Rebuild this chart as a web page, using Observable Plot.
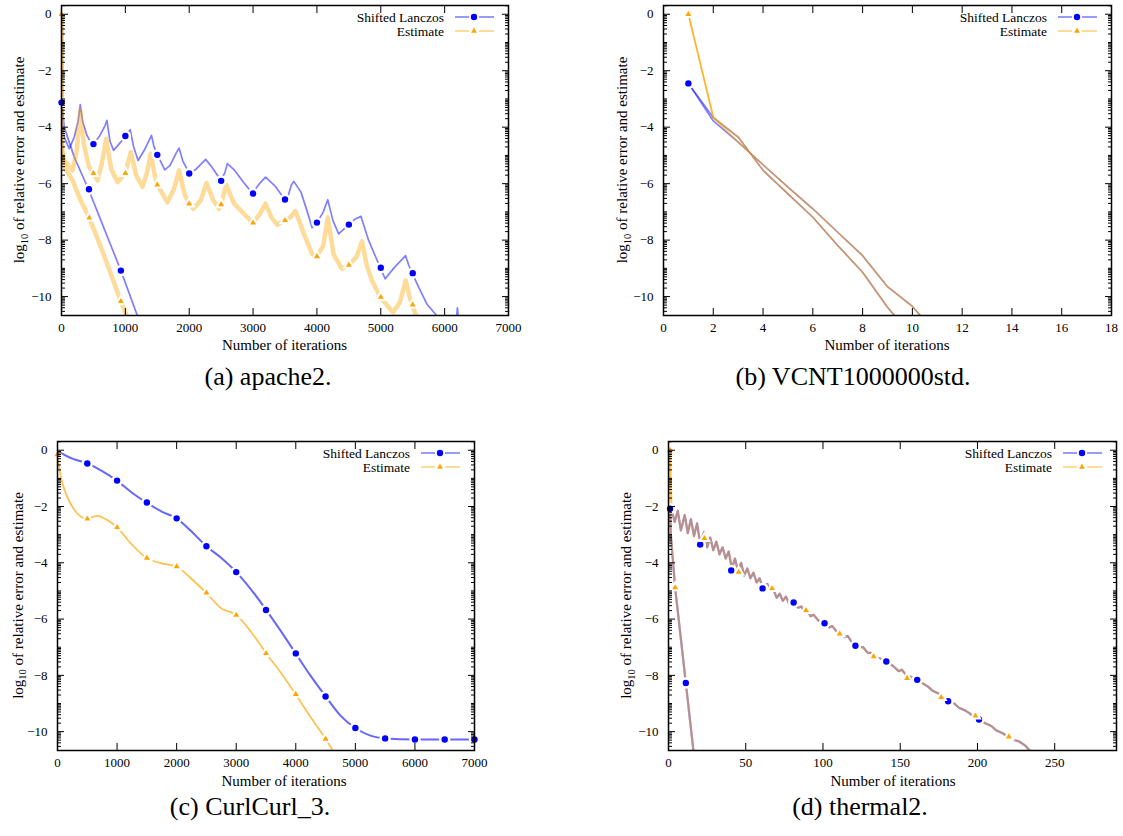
<!DOCTYPE html>
<html><head><meta charset="utf-8">
<script src="https://cdn.jsdelivr.net/npm/d3@7"></script>
<script src="https://cdn.jsdelivr.net/npm/@observablehq/plot@0.6"></script>
<style>
body{margin:0;background:#fff;}
#root{position:relative;width:1123px;height:836px;overflow:hidden;background:#fff}
#root svg.panel{position:absolute}
#overlay{position:absolute;left:0;top:0;pointer-events:none}
#root svg text, #root svg tspan{font-family:"Liberation Serif", "DejaVu Serif", serif !important;}
</style></head>
<body><div id="root"></div>
<script>
// ---------- data ----------
const xTicksIter7000 = [0,1000,2000,3000,4000,5000,6000,7000];
const xTicksVcnt = [0,2,4,6,8,10,12,14,16,18];
const xTicksThermal = [0,50,100,150,200,250];
const yMajor = [0,-2,-4,-6,-8,-10];
const captions = ["(a) apache2.", "(b) VCNT1000000std.", "(c) CurlCurl_3.", "(d) thermal2."];
const seriesNames = ["Shifted Lanczos", "Estimate"];

// (a) apache2
const apacheLanczosSlow = [[0,-3.13],[15,-4.1],[60,-4.45],[122,-4.76],[200,-4.35],[260,-3.8],[294,-3.2],[330,-3.8],[400,-4.3],[472,-4.59],[500,-4.6],[600,-4.3],[680,-3.95],[711,-3.76],[760,-4.5],[815,-4.82],[900,-4.6],[1008,-4.31],[1075,-4.09],[1130,-4.7],[1200,-5.18],[1300,-4.8],[1409,-4.29],[1450,-4.7],[1503,-4.98],[1617,-5.51],[1700,-5.35],[1800,-4.9],[1841,-4.74],[1900,-5.2],[2003,-5.64],[2100,-5.5],[2258,-5.14],[2350,-5.4],[2450,-5.73],[2492,-5.9],[2560,-5.6],[2597,-5.29],[2700,-5.5],[2850,-5.95],[2987,-6.34],[3100,-6.0],[3195,-5.77],[3350,-6.1],[3497,-6.56],[3540,-6.5],[3600,-6.05],[3638,-5.92],[3750,-6.3],[3850,-7.0],[3925,-7.56],[4003,-7.38],[4100,-7.0],[4169,-6.57],[4250,-7.3],[4340,-7.78],[4497,-7.45],[4600,-7.25],[4690,-7.16],[4810,-8.01],[4992,-8.98],[5070,-9.37],[5200,-9.0],[5388,-8.55],[5440,-8.9],[5492,-9.17],[5600,-9.7],[5721,-10.26],[5904,-10.75]];
const apacheLanczosFast = [[0,-3.13],[44,-4.0],[200,-5.06],[419,-6.18],[617,-7.3],[773,-8.19],[930,-9.08],[1200,-10.75]];
const apacheLanczosTail = [[6185,-10.75],[6200,-10.4],[6215,-10.75]];
const apacheEstimateSlow = [[0,0],[8,-4.8],[44,-5.18],[175,-5.53],[240,-4.8],[294,-3.4],[350,-4.6],[430,-5.4],[503,-5.63],[565,-5.89],[630,-5.3],[700,-4.41],[780,-5.5],[878,-5.95],[997,-5.63],[1086,-4.88],[1170,-5.7],[1268,-6.12],[1340,-5.6],[1398,-4.94],[1460,-5.7],[1503,-6.04],[1659,-6.66],[1760,-6.2],[1841,-5.53],[1930,-6.4],[2003,-6.71],[2065,-6.89],[2180,-6.6],[2269,-5.98],[2380,-6.6],[2466,-6.89],[2497,-6.74],[2581,-6.04],[2700,-6.7],[2909,-7.19],[2997,-7.39],[3100,-7.1],[3195,-6.71],[3290,-7.2],[3378,-7.45],[3497,-7.3],[3580,-7.2],[3664,-6.97],[3800,-7.8],[3925,-8.49],[3992,-8.58],[4100,-8.2],[4169,-7.19],[4260,-8.5],[4393,-9.02],[4497,-8.88],[4620,-8.6],[4706,-8.04],[4780,-8.9],[4862,-9.43],[4992,-10.02],[5190,-10.56],[5300,-10.2],[5388,-9.43],[5450,-10.0],[5492,-10.29],[5565,-10.75]];
const apacheEstimateFast = [[0,0],[8,-4.8],[44,-5.41],[175,-5.89],[300,-6.6],[434,-7.21],[617,-8.25],[773,-9.2],[930,-10.17],[1035,-10.75]];
const apacheLanczosMarks = [[0,-3.13],[430,-6.2],[930,-9.08],[500,-4.6],[1000,-4.31],[1500,-4.98],[2000,-5.64],[2500,-5.9],[3000,-6.35],[3500,-6.56],[4000,-7.38],[4500,-7.45],[5000,-8.98],[5500,-9.17]];
const apacheEstimateMarks = [[0,0],[434,-7.21],[930,-10.17],[500,-5.63],[1000,-5.63],[1500,-6.04],[2000,-6.71],[2500,-6.74],[3000,-7.39],[3500,-7.3],[4000,-8.58],[4500,-8.88],[5000,-10.02],[5500,-10.29]];

// (b) VCNT1000000std
const vcntLanczosA = [[1,-2.45],[2,-3.66],[3,-4.35],[4,-5.53],[5,-6.36],[6,-7.19],[7,-8.19],[8,-9.14],[9,-10.38],[9.4,-10.8]];
const vcntLanczosB = [[1,-2.45],[2,-3.78],[3,-4.53],[4,-5.33],[5,-6.12],[6,-6.89],[7,-7.72],[8,-8.55],[9,-9.65],[10,-10.35],[10.45,-10.8]];
const vcntEstimateA = [[1,0],[2,-3.64],[3,-4.35],[4,-5.53],[5,-6.36],[6,-7.19],[7,-8.19],[8,-9.14],[9,-10.38],[9.4,-10.8]];
const vcntEstimateB = [[1,0],[2,-3.66],[3,-4.53],[4,-5.33],[5,-6.12],[6,-6.89],[7,-7.72],[8,-8.55],[9,-9.65],[10,-10.35],[10.45,-10.8]];
const vcntLanczosMarks = [[1,-2.45]];
const vcntEstimateMarks = [[1,0]];

// (c) CurlCurl_3
const curlLanczos = [[0,-0.03],[250,-0.3],[498,-0.47],[750,-0.74],[997,-1.08],[1250,-1.51],[1495,-1.86],[1750,-2.18],[1999,-2.42],[2250,-2.89],[2497,-3.41],[2750,-3.83],[3001,-4.33],[3250,-4.95],[3505,-5.68],[3750,-6.43],[3998,-7.22],[4250,-8.02],[4502,-8.75],[4750,-9.43],[5000,-9.87],[5250,-10.14],[5498,-10.24],[6002,-10.28],[6500,-10.28],[7000,-10.28]];
const curlEstimate = [[0,-0.15],[50,-0.88],[162,-1.65],[330,-2.24],[498,-2.44],[666,-2.33],[850,-2.5],[997,-2.74],[1226,-3.3],[1495,-3.83],[1730,-4.01],[1999,-4.13],[2234,-4.54],[2497,-5.07],[2738,-5.6],[3001,-5.86],[3242,-6.43],[3505,-7.22],[3746,-7.9],[3998,-8.67],[4250,-9.49],[4502,-10.26],[4700,-10.95]];
const curlLanczosMarks = [[500,-0.47],[1000,-1.08],[1500,-1.86],[2000,-2.42],[2500,-3.41],[3000,-4.33],[3500,-5.68],[4000,-7.22],[4500,-8.75],[5000,-9.87],[5500,-10.24],[6000,-10.28],[6500,-10.28],[7000,-10.28]];
const curlEstimateMarks = [[0,-0.15],[500,-2.44],[1000,-2.74],[1500,-3.83],[2000,-4.13],[2500,-5.07],[3000,-5.86],[3500,-7.22],[4000,-8.67],[4500,-10.26]];

// (d) thermal2
const thermalFastLanczos = [[1,-2.08],[1.5,-3.0],[4.3,-4.88],[11.2,-8.27],[16.6,-10.9]];
const thermalFastEstimate = [[1,0],[1.5,-3.0],[4.3,-4.88],[11.2,-8.27],[16.6,-10.9]];
const thermalSlowLanczos = [[1,-2.08],[2,-2.1],[4,-2.55],[6,-2.15],[8,-2.85],[10.5,-2.3],[12.5,-2.95],[14.5,-2.45],[16.5,-3.05],[18.5,-2.6],[20.5,-3.3],[23,-2.9],[25,-3.45],[27,-3.1],[29,-3.55],[31,-3.25],[33,-3.7],[35,-3.45],[37,-3.85],[39,-3.6],[41,-4.2],[43,-3.85],[45,-4.3],[47,-4.0],[49,-4.45],[51,-4.2],[53,-4.55],[55,-4.35],[57,-4.7],[59,-4.55],[61,-4.9],[64,-4.75],[66,-5.0],[68,-4.95],[70,-5.25],[72,-5.1],[74,-5.35],[76,-5.2],[78,-5.45],[81,-5.4],[84,-5.6],[86,-5.55],[88,-5.75],[90,-5.7],[92,-5.9],[94,-5.85],[97,-6.05],[101,-6.15],[104,-6.3],[106,-6.25],[109,-6.45],[111,-6.45],[114,-6.65],[116,-6.6],[119,-6.85],[121,-6.95],[124,-7.0],[126,-7.0],[129,-7.2],[131,-7.2],[134,-7.35],[137,-7.4],[141,-7.51],[145,-7.65],[149,-7.85],[151,-7.8],[154,-8.0],[157,-8.05],[161,-8.16],[165,-8.3],[168,-8.4],[171,-8.55],[175,-8.65],[178,-8.8],[181,-8.92],[185,-9.0],[188,-9.15],[192,-9.25],[195,-9.35],[198,-9.5],[201,-9.57],[205,-9.7],[209,-9.8],[212,-9.95],[216,-10.05],[220,-10.18],[224,-10.3],[227,-10.35],[231,-10.5],[236,-10.8]];
const thermalSlowEstimate = [[1,0]].concat(thermalSlowLanczos.slice(1));
const thermalLanczosMarks = [[1,-2.08],[11.2,-8.27],[20.5,-3.35],[40.6,-4.27],[60.9,-4.91],[81,-5.41],[101,-6.15],[121,-6.95],[141,-7.51],[161,-8.16],[181,-8.92],[201,-9.57]];
const thermalEstimateMarks = [[1,0],[4.3,-4.88],[23.3,-3.13],[45.4,-4.33],[67,-4.91],[89,-5.69],[110.8,-6.52],[132.8,-7.33],[154.4,-8.1],[176.5,-8.78],[198.7,-9.44],[220.3,-10.18]];

// ---------- drawing ----------
const BLUE = "#0000ff", ORANGE = "#ffa500";
const FONT = "Liberation Serif, DejaVu Serif, serif";
const Y_DOMAIN = [-10.67, 0.31];
const fmt = d3.format("d");
const yMinor = [];
for (let n = -11; n <= 0; n++) for (let k = 1; k <= 9; k++) {
  const v = n + Math.log10(k);
  if (v >= Y_DOMAIN[0] && v <= Y_DOMAIN[1] && !yMajor.includes(v)) yMinor.push(v);
}

const panels = [
  {left:0, top:0, width:560, height:360, ml:61, mr:52, mt:5, mb:45, xDomain:[0,7000], xTicks:xTicksIter7000,
   lanczos:[apacheLanczosSlow, apacheLanczosFast, apacheLanczosTail], estimate:[apacheEstimateSlow, apacheEstimateFast],
   lMarks:apacheLanczosMarks, eMarks:apacheEstimateMarks, bOp:0.5, bW:1.7, oOp:0.4, oW:4.5, curve:"linear"},
  {left:560, top:0, width:563, height:360, ml:103, mr:12, mt:5, mb:45, xDomain:[0,18], xTicks:xTicksVcnt,
   lanczos:[vcntLanczosA, vcntLanczosB], estimate:[vcntEstimateA, vcntEstimateB],
   lMarks:vcntLanczosMarks, eMarks:vcntEstimateMarks, bOp:0.5, bW:1.6, oOp:0.6, oW:1.6, curve:"linear"},
  {left:0, top:400, width:560, height:400, ml:57, mr:86, mt:41, mb:50, xDomain:[0,7000], xTicks:xTicksIter7000,
   lanczos:[curlLanczos], estimate:[curlEstimate],
   lMarks:curlLanczosMarks, eMarks:curlEstimateMarks, bOp:0.6, bW:2, oOp:0.7, oW:1.7, curve:"monotone-x"},
  {left:560, top:400, width:563, height:400, ml:108, mr:7, mt:41, mb:50, xDomain:[0,290], xTicks:xTicksThermal,
   lanczos:[thermalFastLanczos, thermalSlowLanczos], estimate:[thermalFastEstimate, thermalSlowEstimate],
   lMarks:thermalLanczosMarks, eMarks:thermalEstimateMarks, bOp:0.5, bW:2.2, oOp:0.45, oW:2.2, curve:"linear"}
];

const root = document.getElementById("root");
const noText = () => "";

panels.forEach((p) => {
  const marks = [];
  for (const s of p.lanczos) marks.push(Plot.line(s, {stroke: BLUE, strokeOpacity: p.bOp, strokeWidth: p.bW, clip: true, curve: p.curve}));
  for (const s of p.estimate) marks.push(Plot.line(s, {stroke: ORANGE, strokeOpacity: p.oOp, strokeWidth: p.oW, clip: true, curve: p.curve}));
  marks.push(Plot.dot(p.lMarks, {x: d => d[0], y: d => d[1], r: 3.2, fill: BLUE, stroke: "white", strokeWidth: 5, paintOrder: "stroke"}));
  marks.push(Plot.dot(p.eMarks, {x: d => d[0], y: d => d[1], r: 2.2, symbol: "triangle", fill: ORANGE, stroke: "white", strokeWidth: 4, paintOrder: "stroke"}));
  marks.push(Plot.axisX({anchor: "bottom", ticks: p.xTicks, tickSize: 0, tickPadding: 7, tickFormat: fmt, label: null, fontSize: 13}));
  marks.push(Plot.axisY({anchor: "left", ticks: yMajor, tickSize: 0, tickPadding: 10, tickFormat: fmt, label: null, fontSize: 13}));
  marks.push(Plot.axisX({anchor: "bottom", ticks: p.xTicks, tickSize: -7, tickFormat: noText, label: null}));
  marks.push(Plot.axisX({anchor: "top", ticks: p.xTicks, tickSize: -7, tickFormat: noText, label: null}));
  marks.push(Plot.axisY({anchor: "left", ticks: yMajor, tickSize: -7, tickFormat: noText, label: null}));
  marks.push(Plot.axisY({anchor: "right", ticks: yMajor, tickSize: -7, tickFormat: noText, label: null}));
  marks.push(Plot.axisY({anchor: "left", ticks: yMinor, tickSize: -4, tickFormat: noText, label: null}));
  marks.push(Plot.axisY({anchor: "right", ticks: yMinor, tickSize: -4, tickFormat: noText, label: null}));
  marks.push(Plot.frame({stroke: "black", strokeWidth: 1.5}));

  const fig = Plot.plot({
    width: p.width, height: p.height,
    marginLeft: p.ml, marginRight: p.mr, marginTop: p.mt, marginBottom: p.mb,
    style: {fontFamily: FONT, fontSize: "13px", color: "#000", background: "transparent", overflow: "visible"},
    x: {domain: p.xDomain},
    y: {domain: Y_DOMAIN},
    marks
  });
  fig.classList.add("panel");
  fig.style.left = p.left + "px";
  fig.style.top = p.top + "px";

  // legend (inside top-right of frame)
  const R = p.width - p.mr, T = p.mt;
  const g = d3.select(fig).append("g").attr("font-size", 13.5);
  const rows = [
    {name: seriesNames[0], color: BLUE, op: 0.5, sym: "circle"},
    {name: seriesNames[1], color: ORANGE, op: 0.5, sym: "triangle"}
  ];
  rows.forEach((r, i) => {
    const by = T + 16.5 + i * 14;
    const cy = by - 4.5;
    g.append("text").attr("x", R - 64).attr("y", by).attr("text-anchor", "end").attr("fill", "#000").text(r.name);
    g.append("line").attr("x1", R - 53).attr("x2", R - 39).attr("y1", cy).attr("y2", cy).attr("stroke", r.color).attr("stroke-opacity", r.op).attr("stroke-width", 1.6);
    g.append("line").attr("x1", R - 29).attr("x2", R - 14).attr("y1", cy).attr("y2", cy).attr("stroke", r.color).attr("stroke-opacity", r.op).attr("stroke-width", 1.6);
    if (r.sym === "circle") g.append("circle").attr("cx", R - 34).attr("cy", cy).attr("r", 3.2).attr("fill", r.color);
    else g.append("path").attr("d", d3.symbol(d3.symbolTriangle, 15)()).attr("transform", `translate(${R - 34},${cy})`).attr("fill", r.color);
  });
  root.appendChild(fig);
});

// ---------- overlay text: axis titles and captions ----------
const ov = d3.select(root).append("svg").attr("id", "overlay").attr("width", 1123).attr("height", 836).attr("fill", "#000");
const xTitlePos = [[284.5, 350], [887, 350], [284, 786], [893, 786]];
xTitlePos.forEach(([x, y]) => ov.append("text").attr("x", x).attr("y", y).attr("text-anchor", "middle").attr("font-size", 15).text("Number of iterations"));
const yTitlePos = [[19, 160], [622, 160], [17.5, 595.5], [626, 595.5]];
yTitlePos.forEach(([x, y]) => {
  const t = ov.append("text").attr("transform", `translate(${x + 5},${y}) rotate(-90)`).attr("text-anchor", "middle").attr("font-size", 15);
  t.append("tspan").text("log");
  t.append("tspan").attr("font-size", 10.5).attr("dy", 3.5).text("10");
  t.append("tspan").attr("dy", -3.5).text(" of relative error and estimate");
});
const capPos = [[268, 385], [853, 385], [250, 815], [860, 815]];
capPos.forEach(([x, y], i) => ov.append("text").attr("x", x).attr("y", y).attr("text-anchor", "middle").attr("font-size", 26).text(captions[i]));
</script>
</body></html>
